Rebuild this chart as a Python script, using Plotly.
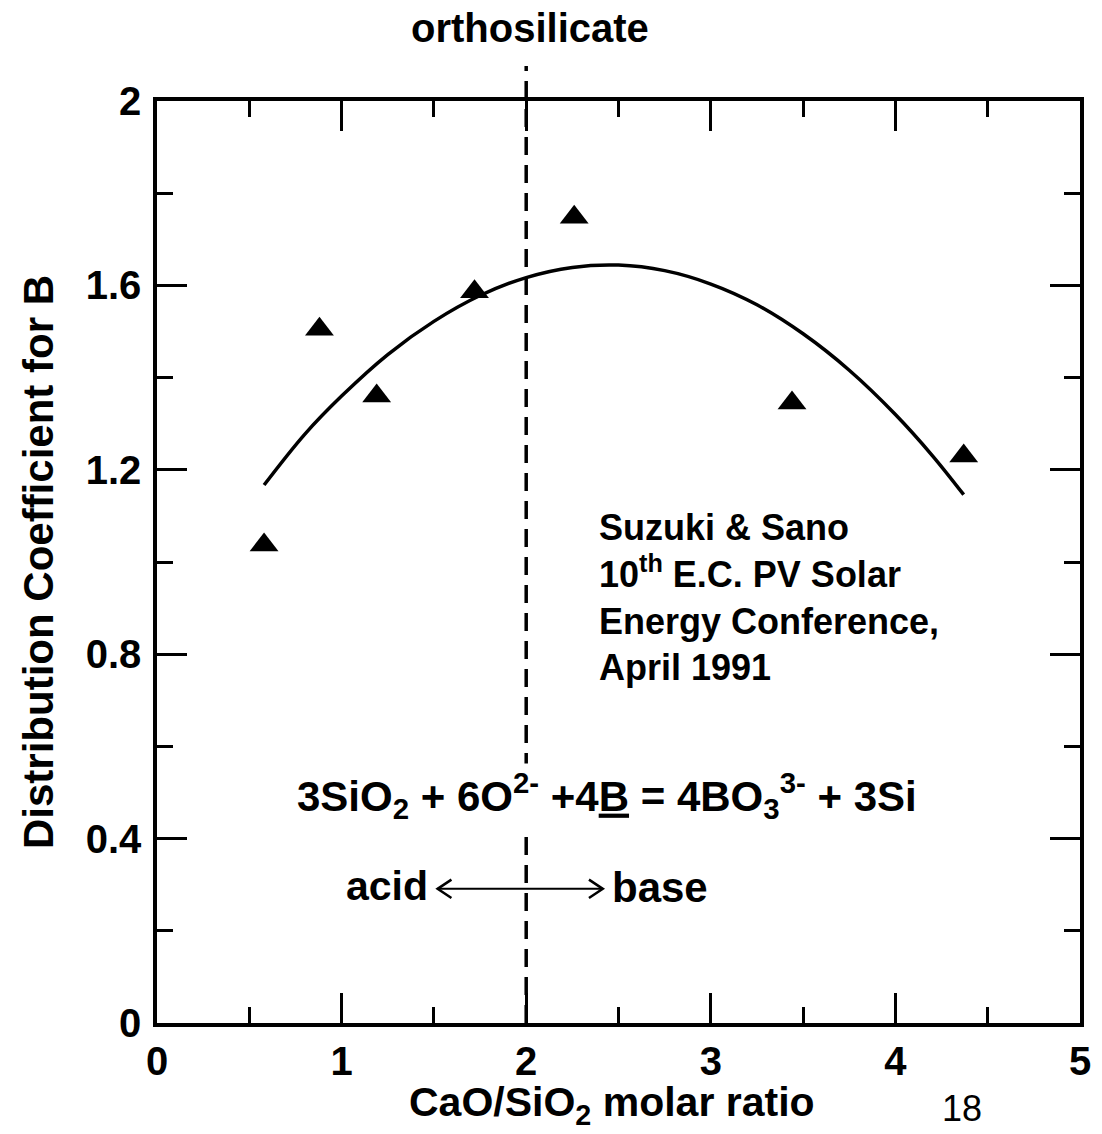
import plotly.graph_objects as go

# measured data points
ratio = [0.58, 0.88, 1.19, 1.72, 2.26, 3.44, 4.37]
coef = [1.037, 1.505, 1.36, 1.586, 1.748, 1.345, 1.23]

# fitted curve
curve_x = [0.58, 0.8, 1.0, 1.25, 1.5, 1.75, 2.0, 2.25, 2.5, 2.75, 3.0, 3.25, 3.5, 3.75, 4.0, 4.2, 4.37]
curve_y = [1.167, 1.277, 1.360, 1.450, 1.522, 1.578, 1.617, 1.639, 1.644, 1.632, 1.603, 1.558, 1.495, 1.416, 1.320, 1.231, 1.146]

x_ticks = [0, 1, 2, 3, 4, 5]
y_ticks = [0, 0.4, 0.8, 1.2, 1.6, 2]
y_tick_labels = ["0", "0.4", "0.8", "1.2", "1.6", "2"]

FONT = "Liberation Sans, Arial, sans-serif"

fig = go.Figure()
fig.add_trace(go.Scatter(x=curve_x, y=curve_y, mode="lines", line=dict(color="black", width=3.5, shape="spline"),
                         hoverinfo="skip", showlegend=False))
fig.add_trace(go.Scatter(x=ratio, y=coef, mode="markers",
                         marker=dict(symbol="triangle-up", size=25, color="black"), showlegend=False))

axis_common = dict(showline=True, linecolor="black", linewidth=3.5, mirror="allticks", ticks="inside",
                   ticklen=30, tickwidth=3, tickcolor="black", showgrid=False, zeroline=False,
                   tickfont=dict(family=FONT, size=40, color="black", weight="bold"))

fig.update_xaxes(range=[0, 5], tickvals=x_ticks, ticktext=[str(v) for v in x_ticks],
                 minor=dict(dtick=0.5, tick0=0, ticks="inside", ticklen=16, tickwidth=3, tickcolor="black"),
                 ticklabelstandoff=0, **axis_common)
fig.update_yaxes(range=[0, 2], tickvals=y_ticks, ticktext=y_tick_labels,
                 minor=dict(dtick=0.2, tick0=0, ticks="inside", ticklen=16, tickwidth=3, tickcolor="black"),
                 ticklabelstandoff=4, **axis_common)

shapes = [
    dict(type="line", xref="x", yref="paper", x0=2, x1=2, y0=0, y1=1.038,
         line=dict(color="black", width=3.5, dash="18px,10px"), layer="above"),
    # double arrow acid <-> base
    dict(type="line", xref="x", yref="y", x0=1.52, x1=2.415, y0=0.291, y1=0.291,
         line=dict(color="black", width=2)),
    dict(type="path", xref="x", yref="y", path="M 1.595,0.311 L 1.52,0.291 L 1.595,0.271",
         line=dict(color="black", width=2.5)),
    dict(type="path", xref="x", yref="y", path="M 2.34,0.311 L 2.415,0.291 L 2.34,0.271",
         line=dict(color="black", width=2.5)),
]

def bold(size):
    return dict(family=FONT, size=size, color="black", weight="bold")

annotations = [
    dict(text="orthosilicate", xref="paper", yref="paper", x=(530 - 157) / 923, y=(1023 - 28) / 922,
         showarrow=False, font=bold(40), xanchor="center", yanchor="middle"),
    dict(text="Suzuki & Sano<br>10<sup>th</sup> E.C. PV Solar<br>Energy Conference,<br>April 1991",
         xref="paper", yref="paper", x=(597 - 157) / 923, y=(1023 - 597) / 922, align="left",
         showarrow=False, font=bold(36), xanchor="left", yanchor="middle"),
    dict(text="3SiO<sub>2</sub> + 6O<sup>2-</sup> +4<u>B</u> = 4BO<sub>3</sub><sup>3-</sup> + 3Si",
         xref="paper", yref="paper", x=(607 - 157) / 923, y=(1023 - 796) / 922,
         showarrow=False, font=bold(42), xanchor="center", yanchor="middle", bgcolor="white", borderpad=2),
    dict(text="acid", xref="paper", yref="paper", x=(430 - 157) / 923, y=(1023 - 886) / 922,
         showarrow=False, font=bold(41), xanchor="right", yanchor="middle"),
    dict(text="base", xref="paper", yref="paper", x=(610 - 157) / 923, y=(1023 - 888) / 922,
         showarrow=False, font=bold(42), xanchor="left", yanchor="middle"),
    dict(text="CaO/SiO<sub>2</sub> molar ratio", xref="paper", yref="paper", x=(612 - 157) / 923, y=(1023 - 1105) / 922,
         showarrow=False, font=bold(41), xanchor="center", yanchor="middle"),
    dict(text="Distribution Coefficient for B", xref="paper", yref="paper", x=(38 - 157) / 923, y=0.5,
         showarrow=False, font=bold(42), textangle=-90, xanchor="center", yanchor="middle"),
    dict(text="18", xref="paper", yref="paper", x=(962 - 157) / 923, y=(1023 - 1108) / 922,
         showarrow=False, font=dict(family=FONT, size=36, color="black"), xanchor="center", yanchor="middle"),
]

fig.update_layout(width=1102, height=1134, margin=dict(l=157, r=22, t=101, b=111, autoexpand=False),
                  paper_bgcolor="white", plot_bgcolor="white", shapes=shapes, annotations=annotations,
                  showlegend=False)

fig.write_html("out.html")
